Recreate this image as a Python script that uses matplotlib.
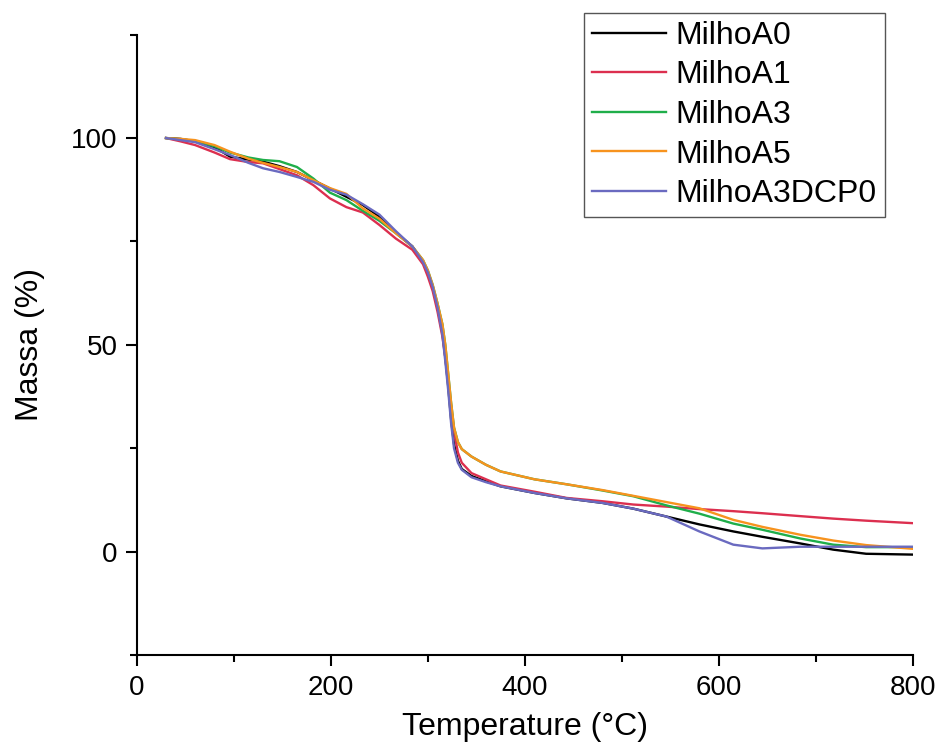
import matplotlib.pyplot as plt
from matplotlib.ticker import MultipleLocator

plt.rcParams['font.family'] = ['Liberation Sans', 'DejaVu Sans']

temp = [30, 45, 60, 80, 96, 115, 130, 147, 165, 182, 199, 216, 233, 250, 267,
        284, 295, 300, 305, 310, 315, 318, 321, 324, 327, 331, 335, 345, 360,
        375, 410, 443, 480, 512, 546, 580, 615, 645, 684, 718, 752, 800]

milho_a0 = [100, 99.8, 99.2, 97.8, 95.5, 94.8, 94.3, 93.2, 91.8, 89.8, 87.8,
            85.8, 83.8, 81, 77.2, 73.8, 70, 67.5, 64, 59, 53, 47, 40, 32, 26,
            22, 20, 18.3, 17, 15.8, 14.2, 12.9, 11.8, 10.4, 8.5, 6.6, 4.9, 3.6,
            2, 0.5, -0.5, -0.7]
milho_a1 = [100, 99.2, 98.3, 96.5, 94.9, 94.2, 93.9, 92.5, 91, 88.6, 85.4,
            83.3, 82, 79, 75.7, 73, 69.5, 66.5, 63, 58, 52, 47, 41, 35, 29, 24,
            21.5, 19, 17.5, 16, 14.5, 13, 12.2, 11.4, 10.9, 10.3, 9.8, 9.3,
            8.6, 8, 7.5, 6.9]
milho_a3 = [100, 99.7, 99.3, 98, 96.5, 95.3, 94.7, 94.4, 93, 90.2, 86.8, 85,
            82.4, 80, 77, 73.8, 70.5, 68, 64.5, 60, 55, 50, 43, 36, 30, 26.5,
            24.8, 23, 21, 19.4, 17.5, 16.3, 14.8, 13.4, 11.2, 9.2, 6.8, 5.3,
            3.2, 1.7, 1.1, 1.1]
milho_a5 = [100, 99.8, 99.5, 98.3, 96.7, 95, 94, 93, 91.8, 89.8, 87.9, 86.5,
            83, 80.5, 77, 73.8, 70.5, 68, 64.5, 60, 55, 50, 43, 36, 30, 26.5,
            24.8, 23, 21, 19.4, 17.5, 16.3, 14.9, 13.5, 12, 10.5, 7.7, 6, 4.1,
            2.7, 1.6, 0.7]
milho_a3dcp0 = [100, 99.5, 99, 97.3, 95.9, 94, 92.7, 91.8, 90.6, 89.4, 87.5,
                86.3, 84, 81.5, 77.5, 73.8, 70, 67.5, 64, 59, 52.5, 46, 39, 31,
                25, 21.5, 19.8, 18, 16.8, 15.8, 14.2, 12.9, 11.8, 10.4, 8.5,
                4.9, 1.7, 0.8, 1.2, 1.2, 1.2, 1.2]

series = [
    ('MilhoA0', milho_a0, '#000000'),
    ('MilhoA1', milho_a1, '#dc2f4f'),
    ('MilhoA3', milho_a3, '#1fae4a'),
    ('MilhoA5', milho_a5, '#f7931e'),
    ('MilhoA3DCP0', milho_a3dcp0, '#6a6ac0'),
]

fig = plt.figure(figsize=(9.38, 7.53), dpi=100)
ax = fig.add_axes([0.146, 0.130, 0.827, 0.824])

for name, vals, col in series:
    ax.plot(temp, vals, color=col, lw=1.7, label=name)

ax.set_xlim(0, 800)
ax.set_ylim(-25, 125)
ax.xaxis.set_major_locator(MultipleLocator(200))
ax.xaxis.set_minor_locator(MultipleLocator(100))
ax.yaxis.set_major_locator(MultipleLocator(50))
ax.yaxis.set_minor_locator(MultipleLocator(25))
ax.spines['top'].set_visible(False)
ax.spines['right'].set_visible(False)
for s in ('left', 'bottom'):
    ax.spines[s].set_linewidth(1.5)
ax.tick_params(which='major', direction='out', length=8, width=1.5,
               labelsize=20, pad=6)
ax.tick_params(which='minor', direction='out', length=5, width=1.5)

ax.set_xlabel('Temperature (°C)', fontsize=23, labelpad=8)
ax.set_ylabel('Massa (%)', fontsize=23, labelpad=19)

leg = ax.legend(loc='upper right', bbox_to_anchor=(0.943, 0.983),
                bbox_transform=fig.transFigure, fontsize=23, fancybox=False,
                framealpha=1, edgecolor='#555555', handlelength=2.3,
                handletextpad=0.3, labelspacing=0.3, borderpad=0.25,
                borderaxespad=0)
leg.get_frame().set_linewidth(1.0)

fig.savefig('out.png', dpi=100)
